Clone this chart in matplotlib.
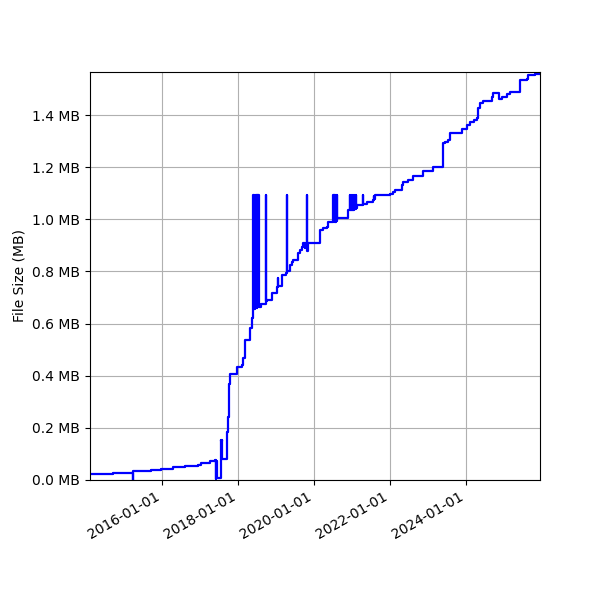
import matplotlib
matplotlib.use("Agg")
import matplotlib.pyplot as plt
import matplotlib.dates as mdates
import matplotlib.ticker as mticker
import pandas as pd

# file size history (MB), one entry per change, held until the next one
dates = [
    "2014-02-08", "2014-09-17", "2015-03-28", "2015-03-30", "2015-09-17",
    "2015-12-22", "2016-04-16", "2016-08-09", "2016-12-12", "2017-01-10",
    "2017-04-07", "2017-05-20",
    "2017-06-04", "2017-06-07", "2017-06-10", "2017-06-13", "2017-06-16",
    "2017-07-20", "2017-07-22", "2017-07-25", "2017-07-27", "2017-07-30",
    "2017-08-01", "2017-09-13", "2017-09-28", "2017-10-08", "2017-10-15",
    "2017-12-19", "2018-02-08", "2018-02-20", "2018-03-08", "2018-04-26",
    "2018-05-12",
    "2018-05-27", "2018-05-30", "2018-06-02", "2018-06-06", "2018-06-10",
    "2018-06-14", "2018-06-18", "2018-06-22", "2018-06-27", "2018-07-01",
    "2018-07-06", "2018-07-10", "2018-07-15", "2018-07-19", "2018-07-22",
    "2018-07-25", "2018-08-10", "2018-09-26", "2018-09-28", "2018-10-05",
    "2018-11-20", "2019-01-07", "2019-01-20", "2019-01-23", "2019-02-24",
    "2019-04-02", "2019-04-13", "2019-04-15", "2019-05-14", "2019-05-31",
    "2019-06-12", "2019-08-02", "2019-08-19", "2019-09-04", "2019-09-20",
    "2019-10-04", "2019-10-10", "2019-10-22", "2019-10-24", "2019-11-01",
    "2020-02-27", "2020-03-31", "2020-05-02", "2020-05-18",
    "2020-07-04", "2020-07-08", "2020-07-14", "2020-07-18", "2020-07-26",
    "2020-07-30", "2020-08-06", "2020-08-10",
    "2020-11-26", "2020-12-12", "2020-12-14", "2020-12-27", "2020-12-29",
    "2021-01-19", "2021-01-21", "2021-02-07", "2021-02-09", "2021-02-14",
    "2021-04-13", "2021-04-15", "2021-04-18", "2021-05-22", "2021-07-24",
    "2021-07-26", "2021-07-28", "2021-08-09", "2022-01-01", "2022-02-01",
    "2022-02-18", "2022-04-23", "2022-05-08", "2022-06-26", "2022-08-12",
    "2022-11-16", "2023-02-21", "2023-05-22", "2023-06-13", "2023-07-14",
    "2023-07-30", "2023-11-19", "2024-01-07", "2024-02-08", "2024-03-20",
    "2024-04-13", "2024-04-28", "2024-05-14", "2024-06-15", "2024-09-04",
    "2024-09-20", "2024-11-16", "2024-12-09", "2025-01-26", "2025-02-27",
    "2025-06-03", "2025-08-07", "2025-08-22", "2025-10-25", "2025-12-12",
]
sizes_mb = [
    0.022, 0.027, 0.000, 0.033, 0.039,
    0.044, 0.048, 0.052, 0.058, 0.064,
    0.071, 0.075,
    0.005, 0.074, 0.006, 0.074, 0.008,
    0.155, 0.080, 0.150, 0.085, 0.155,
    0.080, 0.185, 0.243, 0.370, 0.405,
    0.435, 0.441, 0.467, 0.537, 0.582,
    0.620,
    1.093, 0.655, 1.093, 0.655, 1.093,
    0.658, 1.093, 0.660, 1.093, 0.660,
    1.093, 0.662, 1.093, 0.665, 1.093,
    0.665, 0.674, 1.093, 0.685, 0.690,
    0.716, 0.740, 0.775, 0.745, 0.786,
    0.793, 1.093, 0.800, 0.825, 0.837,
    0.844, 0.870, 0.882, 0.895, 0.908,
    0.890, 0.905, 1.093, 0.880, 0.908,
    0.960, 0.965, 0.972, 0.988,
    1.093, 0.990, 1.093, 0.990, 1.093,
    0.995, 1.093, 1.004,
    1.036, 1.093, 1.036, 1.093, 1.036,
    1.093, 1.040, 1.093, 1.045, 1.055,
    1.093, 1.055, 1.060, 1.068, 1.074,
    1.090, 1.076, 1.093, 1.097, 1.106,
    1.112, 1.131, 1.144, 1.150, 1.166,
    1.187, 1.202, 1.292, 1.298, 1.304,
    1.330, 1.345, 1.360, 1.375, 1.381,
    1.387, 1.426, 1.445, 1.453, 1.470,
    1.485, 1.460, 1.470, 1.480, 1.490,
    1.534, 1.538, 1.553, 1.559, 1.565,
]

x = pd.to_datetime(dates)

fig, ax = plt.subplots(figsize=(6, 6), dpi=100)
ax.plot(x, sizes_mb, color="blue", linewidth=1.6, drawstyle="steps-post")

ax.margins(x=0, y=0)
ax.set_ylabel("File Size (MB)")
ax.yaxis.set_major_formatter(mticker.FuncFormatter(lambda v, p: "{:.1f} MB".format(v)))
ax.xaxis.set_major_locator(mdates.YearLocator(2))
ax.xaxis.set_major_formatter(mdates.DateFormatter("%Y-%m-%d"))
ax.grid(True)

fig.autofmt_xdate()
fig.subplots_adjust(left=0.15, right=0.9, top=0.88, bottom=0.2)
fig.savefig("out.png")
